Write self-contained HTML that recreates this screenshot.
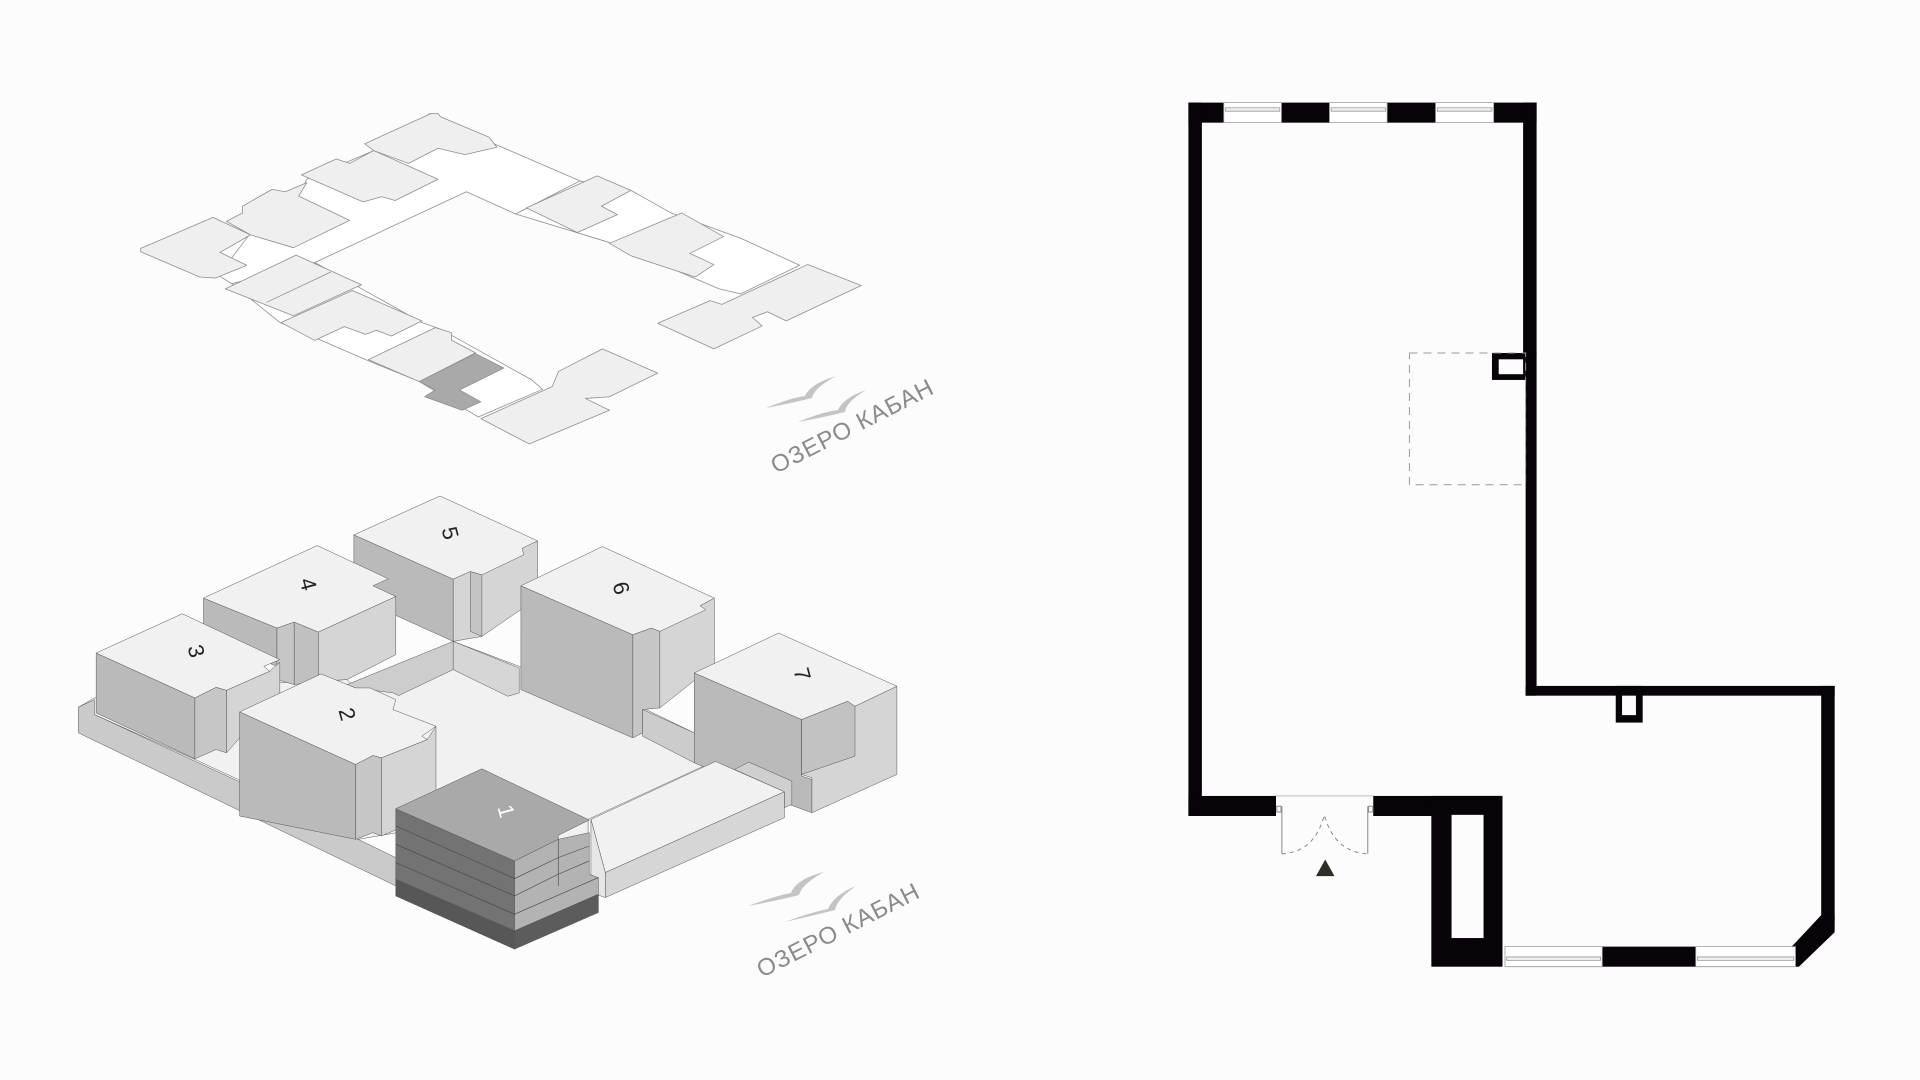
<!DOCTYPE html>
<html><head><meta charset="utf-8"><style>
html,body{margin:0;padding:0;background:#fcfcfc;}
svg{display:block;}
text{font-family:"Liberation Sans",sans-serif;}
</style></head><body>
<svg width="1920" height="1080" viewBox="0 0 1920 1080" xmlns="http://www.w3.org/2000/svg">
<rect width="1920" height="1080" fill="#fcfcfc"/>

<!-- TOP MASTER PLAN -->
<g transform="translate(130,100) scale(0.5357,0.3372)" stroke="#8f8f8f" stroke-width="0.8" stroke-linejoin="round">
 <polygon vector-effect="non-scaling-stroke" fill="#ffffff" points="165,520 225,395 315,285 330,235 455,150 560,40 680,130 840,240 720,338 628,272 345,482 190,545"/>
 <polygon vector-effect="non-scaling-stroke" fill="#ffffff" points="720,338 840,240 935,268 1010,335 1140,410 1250,490 1140,575 1100,560 900,425"/>
 <polygon vector-effect="non-scaling-stroke" fill="#ffffff" points="190,545 345,482 545,660 580,680 750,830 770,858 650,940 540,835 440,770 280,660"/>
 <polygon vector-effect="non-scaling-stroke" fill="#efefef" points="20,440 155,348 225,400 168,452 218,490 160,528 130,525 20,450"/>
 <polygon vector-effect="non-scaling-stroke" fill="#efefef" points="180,360 210,335 210,315 265,265 290,272 330,245 315,285 410,357 305,438 225,400"/>
 <polygon vector-effect="non-scaling-stroke" fill="#efefef" points="320,222 385,175 410,188 455,150 575,235 495,298 470,287 435,302"/>
 <polygon vector-effect="non-scaling-stroke" fill="#efefef" points="438,130 562,40 575,40 580,50 670,110 685,140 625,162 575,143 520,188 455,150"/>
 <polygon vector-effect="non-scaling-stroke" fill="#efefef" points="740,320 872,225 935,268 880,315 910,340 835,393"/>
 <polygon vector-effect="non-scaling-stroke" fill="#efefef" points="895,425 1030,335 1108,405 1045,455 1090,488 1055,525 935,462"/>
 <polygon vector-effect="non-scaling-stroke" fill="#efefef" points="985,662 1083,595 1105,606 1265,488 1365,550 1225,655 1190,628 1162,645 1180,670 1090,738"/>
 <polygon vector-effect="non-scaling-stroke" fill="#efefef" points="178,560 310,460 432,548 305,640"/>
 <line vector-effect="non-scaling-stroke" x1="255" y1="600" x2="375" y2="510"/>
 <polygon vector-effect="non-scaling-stroke" fill="#efefef" points="282,660 415,565 545,655 488,700 460,683 440,695 400,672 345,713"/>
 <polygon vector-effect="non-scaling-stroke" fill="#efefef" points="445,770 570,675 600,690 600,712 645,750 540,835"/>
 <polygon vector-effect="non-scaling-stroke" fill="#a9a9a9" points="540,835 645,752 698,795 615,860 655,895 620,920 550,880 570,860"/>
 <polygon vector-effect="non-scaling-stroke" fill="#efefef" points="655,945 788,850 800,805 882,738 985,810 895,880 850,885 895,920 745,1020"/>
</g>

<!-- lake label top -->
<g fill="#c4c4c4">
 <path d="M766,408 Q790,398 805,396 Q810,384 836,376 Q814,388 812,398 Q792,403 766,408 Z"/>
 <path d="M798,422 Q822,412 838,410 Q843,398 866,390 Q846,402 845,412 Q825,417 798,422 Z"/>
</g>
<text x="776" y="474" font-size="24" fill="#8a8a8a" letter-spacing="1" transform="rotate(-27 776 474)">ОЗЕРО КАБАН</text>

<!-- BOTTOM ISOMETRIC -->
<g transform="translate(60,480) scale(0.574,0.3327)" stroke="#555" stroke-linejoin="round">
 <polygon vector-effect="non-scaling-stroke" stroke-width="0.5" fill="#f1f1f1" points="515,625 685,485 800,560 1000,770 1015,685 1105,760 1140,845 920,1020 920,1160 655,1040 520,1080 310,900 235,840 60,705 32,683 60,655 250,620 500,600"/>
 <polygon vector-effect="non-scaling-stroke" stroke-width="0.5" fill="#cacaca" points="32,683 60,660 60,705 310,905 585,1135 585,1220 32,760"/>
 <polygon vector-effect="non-scaling-stroke" stroke-width="0.5" fill="#cdcdcd" points="500,615 685,485 685,570 590,648 580,640 515,625"/>
 <polygon vector-effect="non-scaling-stroke" stroke-width="0.5" fill="#d6d6d6" points="685,485 800,565 800,640 780,650 685,570"/>
 <!-- 5 -->
 <polygon vector-effect="non-scaling-stroke" stroke-width="0.5" fill="#bababa" points="512,165 685,298 685,485 512,350"/>
 <polygon vector-effect="non-scaling-stroke" stroke-width="0.5" fill="#d5d5d5" points="685,298 832,183 832,355 735,470 685,485"/>
 <polygon vector-effect="non-scaling-stroke" stroke-width="0.5" fill="#c4c4c4" points="715,275 735,285 735,470 715,455"/>
 <polygon vector-effect="non-scaling-stroke" stroke-width="0.5" fill="#f1f1f1" points="512,165 662,48 832,183 805,205 808,225 735,285 715,275 685,298"/>
 <!-- 4 -->
 <polygon vector-effect="non-scaling-stroke" stroke-width="0.5" fill="#bababa" points="250,355 378,445 378,560 250,470"/>
 <polygon vector-effect="non-scaling-stroke" stroke-width="0.5" fill="#c6c6c6" points="378,445 408,427 408,615 378,600"/>
 <polygon vector-effect="non-scaling-stroke" stroke-width="0.5" fill="#d5d5d5" points="450,457 585,350 585,525 500,600 450,605"/>
 <polygon vector-effect="non-scaling-stroke" stroke-width="0.5" fill="#c0c0c0" points="408,427 450,457 450,605 408,615"/>
 <polygon vector-effect="non-scaling-stroke" stroke-width="0.5" fill="#f1f1f1" points="250,355 448,197 572,297 545,318 585,350 450,457 408,427 378,445"/>
 <!-- 3 -->
 <polygon vector-effect="non-scaling-stroke" stroke-width="0.5" fill="#bababa" points="63,520 235,655 235,838 63,700"/>
 <polygon vector-effect="non-scaling-stroke" stroke-width="0.5" fill="#c6c6c6" points="235,655 272,623 290,632 290,820 272,810 235,838"/>
 <polygon vector-effect="non-scaling-stroke" stroke-width="0.5" fill="#d5d5d5" points="290,632 365,575 383,548 383,640 290,820"/>
 <polygon vector-effect="non-scaling-stroke" stroke-width="0.5" fill="#f1f1f1" points="63,520 213,402 383,540 355,560 365,575 290,632 272,623 235,655"/>
 <!-- 2 -->
 <polygon vector-effect="non-scaling-stroke" stroke-width="0.5" fill="#bababa" points="313,697 515,855 515,1080 313,1010"/>
 <polygon vector-effect="non-scaling-stroke" stroke-width="0.5" fill="#c6c6c6" points="515,855 545,828 560,835 560,1070 545,1060 515,1080"/>
 <polygon vector-effect="non-scaling-stroke" stroke-width="0.5" fill="#d5d5d5" points="560,835 640,780 655,740 655,1000 560,1070"/>
 <polygon vector-effect="non-scaling-stroke" stroke-width="0.5" fill="#f1f1f1" points="313,697 455,583 515,625 540,625 585,660 580,690 655,740 630,770 640,780 560,835 545,828 515,855"/>
 <!-- 6 -->
 <polygon vector-effect="non-scaling-stroke" stroke-width="0.5" fill="#bababa" points="803,318 998,465 998,775 803,630"/>
 <polygon vector-effect="non-scaling-stroke" stroke-width="0.5" fill="#c6c6c6" points="998,465 1030,445 1045,455 1045,685 1015,690 1015,760 998,775"/>
 <polygon vector-effect="non-scaling-stroke" stroke-width="0.5" fill="#d5d5d5" points="1045,455 1115,378 1140,355 1140,555 1045,685"/>
 <polygon vector-effect="non-scaling-stroke" stroke-width="0.5" fill="#f1f1f1" points="803,318 945,200 1140,355 1115,378 1125,390 1045,455 1030,445 998,465"/>
 <polygon vector-effect="non-scaling-stroke" stroke-width="0.5" fill="#cccccc" points="1015,690 1105,760 1105,850 1015,770"/>
 <!-- 7 -->
 <polygon vector-effect="non-scaling-stroke" stroke-width="0.5" fill="#bababa" points="1105,580 1292,720 1292,890 1310,900 1310,1000 1270,975 1105,850"/>
 <polygon vector-effect="non-scaling-stroke" stroke-width="0.5" fill="#d5d5d5" points="1292,720 1372,665 1385,680 1458,620 1458,885 1310,1000 1310,895 1292,885"/>
 <polygon vector-effect="non-scaling-stroke" stroke-width="0.5" fill="#c2c2c2" points="1292,720 1372,665 1385,680 1385,830 1292,885"/>
 <polygon vector-effect="non-scaling-stroke" stroke-width="0.5" fill="#f1f1f1" points="1105,580 1252,460 1458,620 1385,680 1372,665 1292,720"/>
 <!-- low bar -->
 <polygon vector-effect="non-scaling-stroke" stroke-width="0.5" fill="#cfcfcf" points="1175,870 1200,848 1275,905 1275,975 1262,985 1262,937"/>
 <polygon vector-effect="non-scaling-stroke" stroke-width="0.5" fill="#f1f1f1" points="925,1020 1142,846 1262,937 950,1180"/>
 <polygon vector-effect="non-scaling-stroke" stroke-width="0.5" fill="#d6d6d6" points="950,1180 1262,937 1262,1015 950,1255"/>
 <polygon vector-effect="non-scaling-stroke" stroke-width="0.5" fill="#e6e6e6" points="925,1020 950,1180 950,1255 925,1240"/>
 <!-- 1 -->
 <polygon vector-effect="non-scaling-stroke" stroke-width="0.5" fill="#737373" points="585,988 792,1145 792,1410 585,1250"/>
 <polygon vector-effect="non-scaling-stroke" stroke-width="0.5" fill="#575757" points="585,1200 792,1355 792,1410 585,1250"/>
 <polygon vector-effect="non-scaling-stroke" stroke-width="0.5" fill="#b3b3b3" points="792,1145 868,1080 922,1060 922,1185 938,1195 938,1245 792,1355"/>
 <polygon vector-effect="non-scaling-stroke" stroke-width="0.5" fill="#5c5c5c" points="792,1355 938,1245 938,1300 792,1410"/>
 <g stroke="#444" stroke-width="0.6" fill="none">
  <polyline vector-effect="non-scaling-stroke" points="585,1040 792,1198 868,1135 922,1100"/>
  <polyline vector-effect="non-scaling-stroke" points="585,1095 792,1250 868,1185 922,1145"/>
  <polyline vector-effect="non-scaling-stroke" points="585,1150 792,1305 938,1195"/>
  <line vector-effect="non-scaling-stroke" x1="868" y1="1080" x2="868" y2="1220"/>
 </g>
 <polygon vector-effect="non-scaling-stroke" stroke-width="0.5" fill="#a9a9a9" points="585,988 735,868 922,1022 868,1068 868,1080 792,1145"/>
</g>
<g font-size="22" fill="#222">
 <text x="443" y="535" transform="rotate(75 443 535)" text-anchor="middle">5</text>
 <text x="301" y="586" transform="rotate(75 301 586)" text-anchor="middle">4</text>
 <text x="189" y="653" transform="rotate(75 189 653)" text-anchor="middle">3</text>
 <text x="340" y="716" transform="rotate(75 340 716)" text-anchor="middle">2</text>
 <text x="614" y="590" transform="rotate(75 614 590)" text-anchor="middle">6</text>
 <text x="795" y="676" transform="rotate(75 795 676)" text-anchor="middle">7</text>
 <text x="499" y="813" transform="rotate(75 499 813)" text-anchor="middle" fill="#fff">1</text>
</g>

<!-- lake label bottom -->
<g fill="#c4c4c4">
 <path d="M748,906 Q775,896 791,893 Q796,879 824,872 Q802,884 799,895 Q780,900 748,906 Z"/>
 <path d="M785,922 Q812,912 828,909 Q834,895 856,886 Q837,899 835,910 Q815,915 785,922 Z"/>
</g>
<text x="762" y="978" font-size="24" fill="#8a8a8a" letter-spacing="1" transform="rotate(-27 762 978)">ОЗЕРО КАБАН</text>

<!-- FLOOR PLAN -->
<g transform="translate(1180,90) scale(0.421,0.573)">
 <g fill="#070308">
  <rect x="20" y="22" width="827" height="35"/>
  <rect x="20" y="22" width="32" height="1245"/>
  <rect x="815" y="22" width="32" height="440"/>
  <rect x="741" y="459" width="80" height="47"/>
  <rect x="821" y="459" width="26" height="598"/>
  <rect x="821" y="1040" width="734" height="17"/>
  <rect x="1035" y="1040" width="64" height="64"/>
  <rect x="1523" y="1040" width="32" height="410"/>
  <polygon points="1523,1440 1555,1440 1555,1470 1470,1530 1462,1530 1462,1495 1453,1495"/>
  <rect x="20" y="1232" width="208" height="35"/>
  <rect x="459" y="1232" width="307" height="35"/>
  <rect x="597" y="1232" width="169" height="298"/>
  <rect x="1003" y="1495" width="222" height="35"/>
 </g>
 <g fill="#fcfcfc">
  <rect x="757" y="470" width="58" height="26"/>
  <rect x="1050" y="1057" width="33" height="34"/>
  <rect x="645" y="1265" width="76" height="215"/>
 </g>
 <g fill="#ffffff" stroke="#999" stroke-width="0.8">
  <rect vector-effect="non-scaling-stroke" x="104" y="22" width="137" height="35"/>
  <rect vector-effect="non-scaling-stroke" x="355" y="22" width="137" height="35"/>
  <rect vector-effect="non-scaling-stroke" x="607" y="22" width="138" height="35"/>
  <rect vector-effect="non-scaling-stroke" x="772" y="1495" width="231" height="35"/>
  <rect vector-effect="non-scaling-stroke" x="1225" y="1495" width="237" height="35"/>
  <rect vector-effect="non-scaling-stroke" x="108" y="31" width="129" height="6" fill="#eee"/>
  <rect vector-effect="non-scaling-stroke" x="359" y="31" width="129" height="6" fill="#eee"/>
  <rect vector-effect="non-scaling-stroke" x="611" y="31" width="130" height="6" fill="#eee"/>
  <rect vector-effect="non-scaling-stroke" x="776" y="1513" width="223" height="6" fill="#eee"/>
  <rect vector-effect="non-scaling-stroke" x="1229" y="1513" width="229" height="6" fill="#eee"/>
 </g>
 <rect vector-effect="non-scaling-stroke" x="545" y="459" width="276" height="230" fill="none" stroke="#9a9a9a" stroke-width="1" stroke-dasharray="8,6"/>
 <g stroke="#888" stroke-width="1" fill="none">
  <line vector-effect="non-scaling-stroke" x1="228" y1="1232" x2="459" y2="1232" stroke="#bbb"/>
  <rect vector-effect="non-scaling-stroke" x="230" y="1250" width="10" height="10"/>
  <rect vector-effect="non-scaling-stroke" x="448" y="1250" width="10" height="10"/>
  <line vector-effect="non-scaling-stroke" x1="242" y1="1250" x2="242" y2="1333"/>
  <line vector-effect="non-scaling-stroke" x1="446" y1="1250" x2="446" y2="1333"/>
  <path vector-effect="non-scaling-stroke" d="M242,1333 Q320,1330 343,1265 Q366,1330 446,1333" stroke-dasharray="4,4"/>
 </g>
 <polygon points="323,1372 345,1343 367,1372" fill="#2e2e26"/>
</g>
</svg>
</body></html>
